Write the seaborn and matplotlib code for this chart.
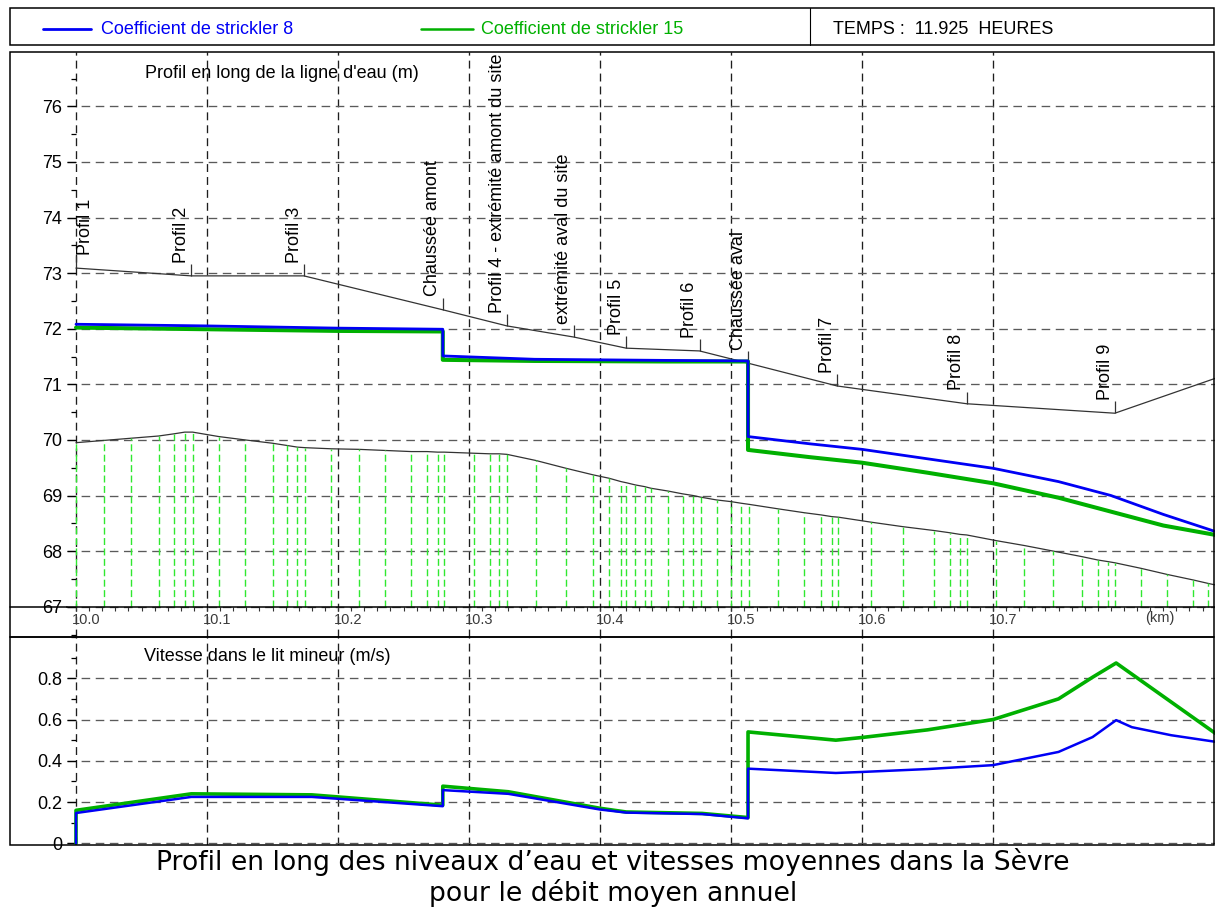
import numpy as np
import pandas as pd
import matplotlib.pyplot as plt
import matplotlib.transforms as mtransforms
from matplotlib.lines import Line2D
from matplotlib.patches import Rectangle
from matplotlib.ticker import FixedLocator, FixedFormatter, MultipleLocator
import seaborn as sns

sns.set_theme(style="white")
plt.rcParams['font.family'] = ['Liberation Sans', 'DejaVu Sans']

# ---- données ----
# sections de calcul (km) et cote du fond (m)
x_sections = [10.000, 10.021, 10.042, 10.063, 10.075, 10.083, 10.089, 10.109, 10.129, 10.150, 10.161, 10.169, 10.175,
              10.195, 10.216, 10.236, 10.256, 10.268, 10.276, 10.281, 10.304, 10.316, 10.323, 10.329, 10.351, 10.374,
              10.395, 10.407, 10.416, 10.420, 10.427, 10.434, 10.439, 10.452, 10.463, 10.471, 10.477, 10.489, 10.500,
              10.508, 10.514, 10.536, 10.556,
              10.569, 10.577, 10.582, 10.607, 10.631, 10.655, 10.667, 10.675, 10.680, 10.702, 10.724, 10.746,
              10.768, 10.780, 10.788, 10.793, 10.813, 10.833, 10.853, 10.864, 10.870]
z_fond = [69.95, 69.99, 70.03, 70.07, 70.11, 70.14, 70.14, 70.06, 70.00, 69.94, 69.90, 69.87, 69.86,
          69.84, 69.83, 69.81, 69.79, 69.79, 69.78, 69.78, 69.76, 69.75, 69.75, 69.74, 69.63, 69.49,
          69.37, 69.31, 69.25, 69.23, 69.19, 69.16, 69.13, 69.08, 69.03, 69.00, 68.97, 68.92, 68.89,
          68.86, 68.84, 68.76, 68.69,
          68.65, 68.62, 68.61, 68.52, 68.44, 68.37, 68.33, 68.30, 68.29, 68.19, 68.10, 68.00,
          67.90, 67.84, 67.81, 67.79, 67.69, 67.58, 67.48, 67.42, 67.39]

# repères des profils sur la ligne de berge
profils_noms = ['Profil 1', 'Profil 2', 'Profil 3', 'Chaussée amont', 'Profil 4 - extrémité amont du site',
                'extrémité aval du site', 'Profil 5', 'Profil 6', 'Chaussée aval', 'Profil 7', 'Profil 8', 'Profil 9']
profils_x = [10.000, 10.088, 10.174, 10.280, 10.329, 10.380, 10.420, 10.476, 10.513, 10.581, 10.680, 10.793]
profils_z = [73.09, 72.95, 72.95, 72.34, 72.05, 71.85, 71.65, 71.60, 71.38, 70.97, 70.65, 70.48]
x_berge = profils_x + [10.870]
z_berge = profils_z + [71.11]

# ligne d'eau (m)
x_eau = [10.000, 10.100, 10.200, 10.280, 10.280, 10.350, 10.450, 10.513, 10.513, 10.560, 10.600, 10.650,
         10.700, 10.750, 10.790, 10.830, 10.870]
z_k8 = [72.08, 72.05, 72.01, 71.99, 71.51, 71.45, 71.43, 71.42, 70.06, 69.93, 69.83, 69.66,
        69.49, 69.25, 69.00, 68.66, 68.35]
z_k15 = [72.02, 71.99, 71.96, 71.95, 71.44, 71.42, 71.41, 71.41, 69.82, 69.69, 69.59, 69.41,
         69.22, 68.96, 68.71, 68.46, 68.29]

# vitesse dans le lit mineur (m/s)
x_vit = [10.000, 10.000, 10.088, 10.180, 10.280, 10.280, 10.330, 10.400, 10.420, 10.478, 10.513, 10.513,
         10.580, 10.600, 10.650, 10.700, 10.750, 10.776, 10.794, 10.806, 10.836, 10.870]
v_k8 = [0.0, 0.147, 0.225, 0.225, 0.180, 0.258, 0.240, 0.164, 0.149, 0.142, 0.121, 0.362,
        0.341, 0.346, 0.360, 0.379, 0.443, 0.515, 0.597, 0.563, 0.524, 0.492]
v_k15 = [0.0, 0.160, 0.240, 0.235, 0.185, 0.277, 0.250, 0.170, 0.152, 0.145, 0.125, 0.540,
         0.500, 0.513, 0.550, 0.600, 0.700, 0.805, 0.874, 0.820, 0.685, 0.532]

x_graduations = [10.0, 10.1, 10.2, 10.3, 10.4, 10.5, 10.6, 10.7]
x_etiquettes = ['10.0', '10.1', '10.2', '10.3', '10.4', '10.5', '10.6', '10.7']
z_graduations = [67, 68, 69, 70, 71, 72, 73, 74, 75, 76]
v_graduations = [0, 0.2, 0.4, 0.6, 0.8]
v_etiquettes = ['0', '0.2', '0.4', '0.6', '0.8']

BLEU = '#0000f5'
VERT = '#00b000'
VERT_CLAIR = '#30e830'
TRAIT = '#333333'

W, H = 1215, 908
fig = plt.figure(figsize=(W / 100, H / 100), dpi=100)


def boite(x0, y0, x1, y1):
    return [x0 / W, 1 - y1 / H, (x1 - x0) / W, (y1 - y0) / H]


ax1 = fig.add_axes(boite(67, 52, 1215, 637))
ax2 = fig.add_axes(boite(67, 637, 1215, 845))

# cadres
for y0, y1 in [(8, 45), (52, 637), (637, 845)]:
    fig.add_artist(Rectangle((10 / W, 1 - y1 / H), 1204 / W, (y1 - y0) / H, transform=fig.transFigure,
                             fill=False, ec='black', lw=1.1, zorder=20))
fig.add_artist(Line2D([810 / W, 810 / W], [1 - 45 / H, 1 - 8 / H], transform=fig.transFigure, color='black', lw=0.8))

# ---- profil en long ----
sns.lineplot(x=x_sections, y=z_fond, ax=ax1, color=TRAIT, lw=0.9, estimator=None, sort=False)
ax1.vlines(x_sections, 67, z_fond, colors=VERT_CLAIR, linestyles=[(0, (5, 2.5))], lw=1.0)
sns.lineplot(x=x_berge, y=z_berge, ax=ax1, color=TRAIT, lw=0.9, estimator=None, sort=False)
ax1.vlines(profils_x, profils_z, np.array(profils_z) + 0.22, colors=TRAIT, lw=0.9)
for i, (nom, x, z) in enumerate(zip(profils_noms, profils_x, profils_z)):
    ax1.text(x + (0.001 if i == 0 else -0.001), z + 0.24, nom, rotation=90, fontsize=13,
             ha='left' if i == 0 else 'right', va='bottom', color='black')

sns.lineplot(x=x_eau, y=z_k15, ax=ax1, color=VERT, lw=2.9, estimator=None, sort=False)
sns.lineplot(x=x_eau, y=z_k8, ax=ax1, color=BLEU, lw=2.0, estimator=None, sort=False)

# ---- vitesses ----
sns.lineplot(x=x_vit, y=v_k15, ax=ax2, color=VERT, lw=2.6, estimator=None, sort=False)
sns.lineplot(x=x_vit, y=v_k8, ax=ax2, color=BLEU, lw=1.8, estimator=None, sort=False)

xmin, xmax = 10.0 - 9 / 1310, 10.0 + 1139 / 1310
for ax in (ax1, ax2):
    ax.set_xlim(xmin, xmax)
    ax.set_xlabel('')
    ax.set_ylabel('')
    ax.set_facecolor('white')
    for s in ('top', 'right'):
        ax.spines[s].set_visible(False)
    ax.spines['left'].set_position(('data', 10.0))
    ax.spines['left'].set_color('none')
    ax.xaxis.set_major_locator(FixedLocator(x_graduations))
    ax.set_axisbelow(True)
    ax.xaxis.grid(True, which='major', color='#1e1e1e', linestyle=(0, (6, 3.8)), lw=0.95)
    ax.yaxis.grid(True, which='major', color='#5a5a5a', linestyle=(0, (6.5, 4.2)), lw=0.95)
    ax.tick_params(axis='y', which='major', left=True, direction='out', length=6.5, width=0.9,
                   color='black', labelsize=13, pad=3.5, labelcolor='black')
    ax.tick_params(axis='y', which='minor', left=True, direction='out', length=3.6, width=0.9, color='black')

ax1.set_ylim(67 - 30.3 / 55.6, 67 + 554.7 / 55.6)
ax1.yaxis.set_major_locator(FixedLocator(z_graduations))
ax1.yaxis.set_minor_locator(MultipleLocator(0.5))
ax1.spines['bottom'].set_position(('data', 67))
ax1.spines['bottom'].set_color('black')
ax1.spines['bottom'].set_linewidth(1.1)
ax1.axhline(67, xmin=-57 / 1148, xmax=0, color='black', lw=1.1, clip_on=False)
ax1.xaxis.set_major_formatter(FixedFormatter(x_etiquettes))
ax1.xaxis.set_minor_locator(MultipleLocator(0.01))
ax1.tick_params(axis='x', which='both', bottom=True, direction='out', length=3, width=0.8,
                color='#333333', labelsize=10.5, pad=1.5, labelcolor='#3a3a3a')
decalage = mtransforms.ScaledTranslation(-4 / 100, 0, fig.dpi_scale_trans)
for lab in ax1.xaxis.get_majorticklabels():
    lab.set_ha('left')
    lab.set_transform(lab.get_transform() + decalage)
mixte = mtransforms.blended_transform_factory(ax1.transData, ax1.transAxes)
ax1.text(10.816, 0.032, '(km)', transform=mixte, fontsize=10.5, color='#3a3a3a', ha='left', va='center')
ax1.text(0.068, 0.964, "Profil en long de la ligne d'eau (m)", transform=ax1.transAxes,
         fontsize=13, ha='left', va='center', color='black')

ax2.set_ylim(-0.008, 1.0)
ax2.yaxis.set_major_locator(FixedLocator(v_graduations))
ax2.yaxis.set_major_formatter(FixedFormatter(v_etiquettes))
ax2.yaxis.set_minor_locator(MultipleLocator(0.1))
ax2.spines['bottom'].set_visible(False)
ax2.tick_params(axis='x', which='both', bottom=False, labelbottom=False)
ax2.text(0.067, 0.905, 'Vitesse dans le lit mineur (m/s)', transform=ax2.transAxes,
         fontsize=13, ha='left', va='center', color='black')

# ---- légende ----
yl = 1 - 29 / H
fig.add_artist(Line2D([43 / W, 91 / W], [yl, yl], transform=fig.transFigure, color=BLEU, lw=2.0))
fig.text(101 / W, yl, 'Coefficient de strickler 8', color=BLEU, fontsize=13, va='center', ha='left')
fig.add_artist(Line2D([421 / W, 473 / W], [yl, yl], transform=fig.transFigure, color=VERT, lw=1.8))
fig.text(481 / W, yl, 'Coefficient de strickler 15', color=VERT, fontsize=13, va='center', ha='left')
fig.text(833 / W, yl, 'TEMPS :  11.925  HEURES', color='black', fontsize=13, va='center', ha='left')

# ---- légende de la figure ----
fig.text(613 / W, 1 - 862 / H, 'Profil en long des niveaux d’eau et vitesses moyennes dans la Sèvre',
         fontsize=19.2, family='DejaVu Sans', ha='center', va='center', color='black')
fig.text(613 / W, 1 - 893 / H, 'pour le débit moyen annuel',
         fontsize=19.2, family='DejaVu Sans', ha='center', va='center', color='black')

fig.savefig('out.png', dpi=100, facecolor='white')
